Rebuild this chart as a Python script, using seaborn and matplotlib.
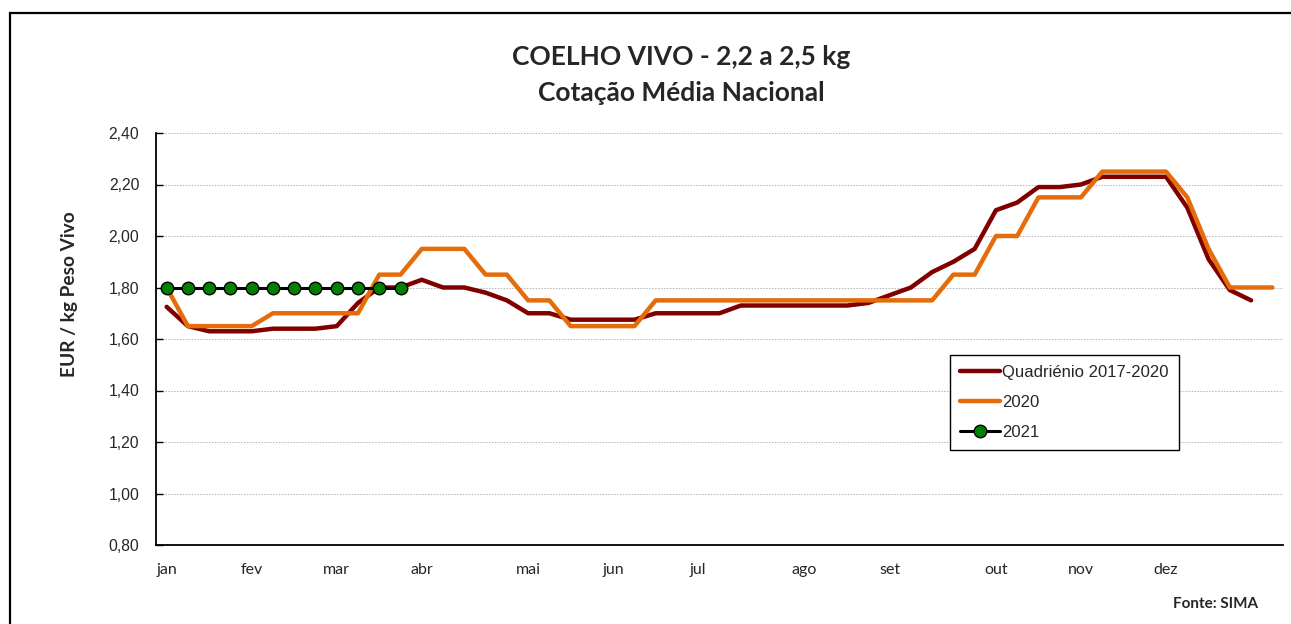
import matplotlib
matplotlib.use('Agg')
import matplotlib.pyplot as plt
import seaborn as sns
import numpy as np
from matplotlib.patches import Rectangle

# semanas do ano (53 categorias)
semanas = list(range(53))
meses = ['jan', 'fev', 'mar', 'abr', 'mai', 'jun', 'jul', 'ago', 'set', 'out', 'nov', 'dez']
pos_meses = [0, 4, 8, 12, 17, 21, 25, 30, 34, 39, 43, 47]

quadrienio = [1.725, 1.65, 1.63, 1.63, 1.63, 1.64, 1.64, 1.64, 1.65, 1.74,
              1.80, 1.80, 1.83, 1.80, 1.80, 1.78, 1.75, 1.70, 1.70, 1.675,
              1.675, 1.675, 1.675, 1.70, 1.70, 1.70, 1.70, 1.73, 1.73, 1.73,
              1.73, 1.73, 1.73, 1.74, 1.77, 1.80, 1.86, 1.90, 1.95, 2.10,
              2.13, 2.19, 2.19, 2.20, 2.23, 2.23, 2.23, 2.23, 2.11, 1.91,
              1.79, 1.75]
ano2020 = [1.80, 1.65, 1.65, 1.65, 1.65, 1.70, 1.70, 1.70, 1.70, 1.70,
           1.85, 1.85, 1.95, 1.95, 1.95, 1.85, 1.85, 1.75, 1.75, 1.65,
           1.65, 1.65, 1.65, 1.75, 1.75, 1.75, 1.75, 1.75, 1.75, 1.75,
           1.75, 1.75, 1.75, 1.75, 1.75, 1.75, 1.75, 1.85, 1.85, 2.00,
           2.00, 2.15, 2.15, 2.15, 2.25, 2.25, 2.25, 2.25, 2.15, 1.95,
           1.80, 1.80, 1.80]
ano2021 = [1.80] * 12

sns.set_style('white')
plt.rcParams['font.family'] = ['Liberation Sans', 'DejaVu Sans']

W, H = 1291, 624
fig = plt.figure(figsize=(W / 100, H / 100), dpi=100)
ax = fig.add_axes([156 / W, 1 - 545 / H, 1127 / W, 412 / H])

sns.lineplot(x=semanas[:len(quadrienio)], y=quadrienio, ax=ax, color='#800000',
             lw=3.2, label='Quadriénio 2017-2020')
sns.lineplot(x=semanas[:len(ano2020)], y=ano2020, ax=ax, color='#E46C0A',
             lw=3.2, label='2020')
sns.lineplot(x=semanas[:len(ano2021)], y=ano2021, ax=ax, color='black', lw=2.2,
             marker='o', markersize=9, markerfacecolor='#008000',
             markeredgecolor='black', markeredgewidth=1, label='2021')

ax.set_xlim(-0.5, 52.5)
ax.set_ylim(0.8, 2.4)
yt = np.round(np.arange(0.8, 2.41, 0.2), 2)
ax.set_yticks(yt)
ax.set_yticklabels([f'{v:.2f}'.replace('.', ',') for v in yt], fontsize=11.3)
ax.yaxis.grid(True, color='#b4b4b4', ls=(0, (1.5, 1.5)), lw=0.7)
ax.xaxis.grid(False)

ax.set_xticks(pos_meses)
ax.set_xticklabels(meses, fontsize=11.5, family='Lato')
ax.set_xticks(np.arange(0.5, 52, 1), minor=True)
ax.tick_params(axis='x', which='major', length=0, pad=13)
ax.tick_params(axis='x', which='minor', direction='in', length=5, width=1, color='black')
ax.tick_params(axis='y', direction='in', length=5, width=1, color='black', left=True, pad=12)

for s in ['top', 'right']:
    ax.spines[s].set_visible(False)
for s in ['left', 'bottom']:
    ax.spines[s].set_color('black')
    ax.spines[s].set_linewidth(1.3)
ax.set_xlabel('')
ax.set_ylabel('')

leg = ax.legend(loc='upper left', bbox_to_anchor=((950 - 156) / 1127, (545 - 355) / 412),
                fontsize=12, frameon=True, fancybox=False, framealpha=1,
                edgecolor='black', handlelength=2.4, handletextpad=0.15,
                labelspacing=0.9, borderpad=0.6, borderaxespad=0)
leg.get_frame().set_linewidth(1.0)

fig.text(681 / W, 1 - 57 / H, 'COELHO VIVO - 2,2 a 2,5 kg', ha='center', va='center',
         fontsize=19, fontweight='bold', family='Lato')
fig.text(681 / W, 1 - 93 / H, 'Cotação Média Nacional', ha='center', va='center',
         fontsize=19, fontweight='bold', family='Lato')
fig.text(69 / W, 1 - 294 / H, 'EUR / kg Peso Vivo', rotation=90, ha='center', va='center',
         fontsize=13.8, fontweight='bold', family='Lato')
fig.text(1258 / W, 1 - 604 / H, 'Fonte: SIMA', ha='right', va='center',
         fontsize=11, fontweight='bold', family='Lato')

fig.patches.append(Rectangle((10 / W, -0.2), 2, 1.2 - 13 / H, transform=fig.transFigure,
                             fill=False, edgecolor='black', lw=1.6))

fig.savefig('out.png', dpi=100)
